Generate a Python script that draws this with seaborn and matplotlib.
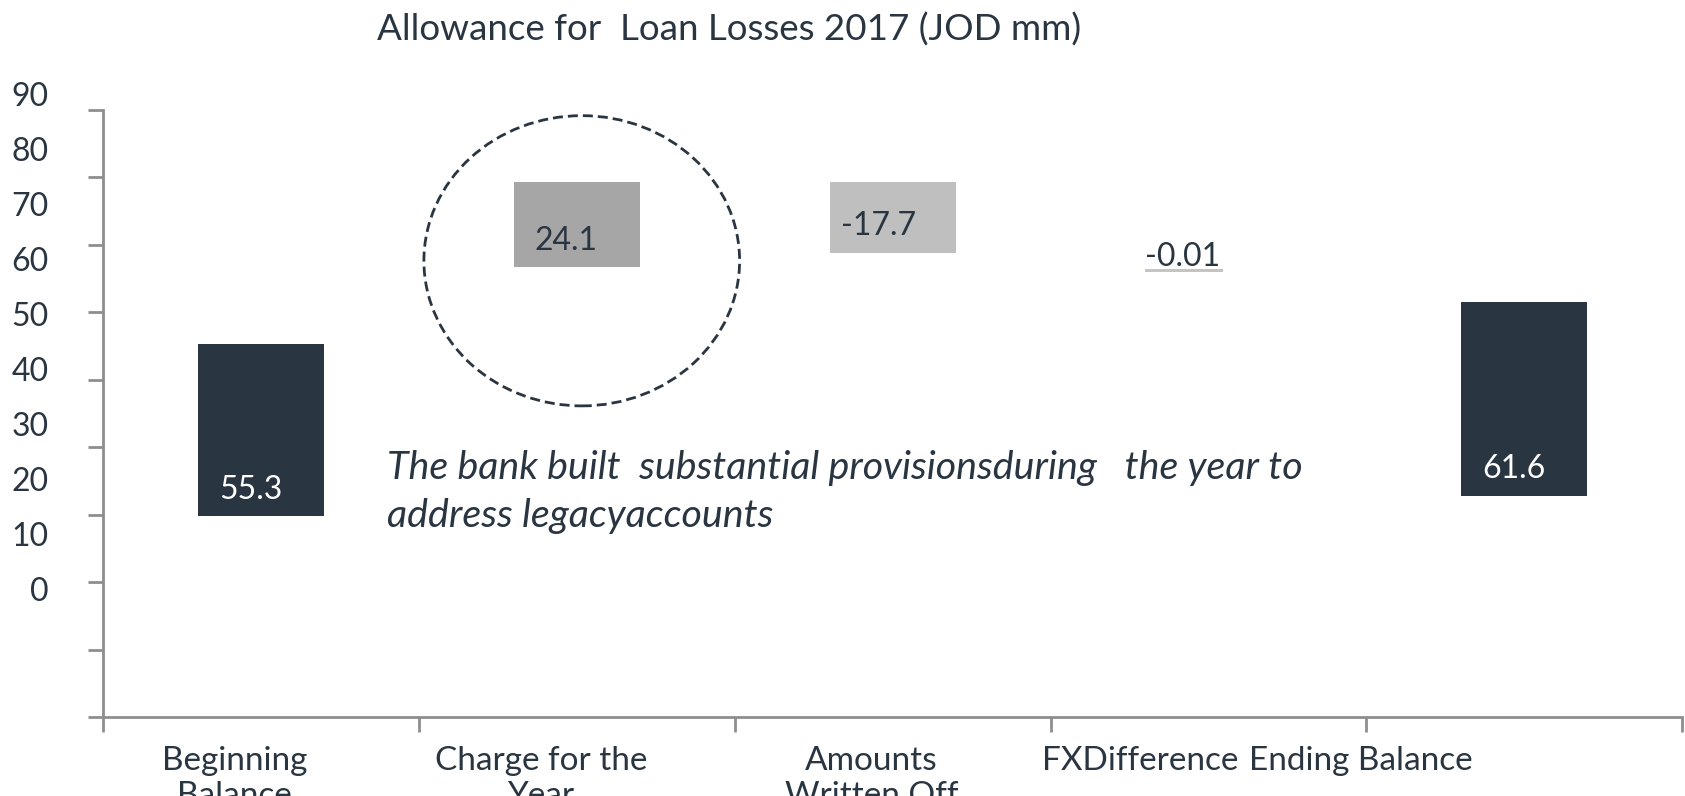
import numpy as np
import seaborn as sns
import matplotlib.pyplot as plt
from matplotlib.patches import Ellipse
from matplotlib.transforms import ScaledTranslation

# Chart data
categories = ["Beginning\nBalance", "Charge for the\nYear", "Amounts\nWritten Off",
              "FXDifference", "Ending Balance"]
values = [55.3, 24.1, -17.7, -0.01, 61.6]
# visible extent of each bar as drawn in the source
seg_low = [29.8, 66.7, 68.8, 66.0, 32.8]
seg_high = [55.3, 79.3, 79.3, 66.4, 61.5]
bar_colors = ["#2a3542", "#a6a6a6", "#bfbfbf", "#c4c4c4", "#2a3542"]
label_colors = ["white", "#2a3542", "#2a3542", "#2a3542", "white"]
y_ticks = [0, 10, 20, 30, 40, 50, 60, 70, 80, 90]
note_lines = ["The bank built  substantial provisionsduring   the year to",
              "address legacyaccounts"]
title = "Allowance for  Loan Losses 2017 (JOD mm)"

navy = "#2a3542"
grey = "#8e8e8e"

sns.set_theme(style="white")
plt.rcParams['font.family'] = ['Lato', 'DejaVu Sans']

fig = plt.figure(figsize=(16.85, 7.96), dpi=100)
# y range runs a bit past 90 so the shifted "90" label still fits
ax = fig.add_axes([0.0614, 0.0992, 0.9368, 0.7928])

heights = [h - l for h, l in zip(seg_high, seg_low)]
sns.barplot(x=categories, y=heights, bottom=seg_low, width=0.4, color=navy,
            errorbar=None, ax=ax)
for patch, c in zip(ax.patches, bar_colors):
    patch.set_facecolor(c)
    patch.set_edgecolor("none")
# FX change is only a thin underline below its label
ax.patches[3].set_width(0.245)

# value labels
for i, (v, lo, hi) in enumerate(zip(values, seg_low, seg_high)):
    dx = 0.035 if v < 0 else 0.066
    if hi - lo < 1:
        x, y = i - 0.2, hi + 0.4
    else:
        x, y = i - 0.2 + dx, lo + 2.55
    ax.text(x, y, f"{v:g}", ha="left", va="baseline",
            fontsize=23, color=label_colors[i])

# dashed circle around the charge bar
ax.add_patch(Ellipse((1.015, 67.6), 1.0, 43, fill=False, edgecolor=navy,
                     linewidth=2, linestyle=(0, (3.6, 1.8))))

# commentary
for k, line in enumerate(note_lines):
    ax.text(0.397, 35.3 - k * 7.1, line, ha="left", va="baseline",
            fontsize=28.4, fontstyle="italic", color=navy)

# axes styling
ax.set_xlim(-0.5, 4.5)
ax.set_ylim(0, 93.5)
ax.spines["left"].set_bounds(0, 90)
ax.set_xticks(np.arange(-0.5, 5, 1), labels=[""] * 6)
ax.set_xticks(range(5), labels=categories, minor=True)
ax.set_yticks(y_ticks, labels=[""] * len(y_ticks))
ax.tick_params(axis="both", which="major", direction="out", length=10.8,
               width=2, color=grey, left=True, bottom=True)
ax.tick_params(axis="x", which="minor", length=0, pad=21, labelsize=24,
               labelcolor=navy)
x_shift = [-27, -36, -21, -68, -163]
for lab, dx in zip(ax.get_xticklabels(minor=True), x_shift):
    lab.set_transform(lab.get_transform() +
                      ScaledTranslation(dx / 100, 0, fig.dpi_scale_trans))
for side in ["top", "right"]:
    ax.spines[side].set_visible(False)
for side in ["left", "bottom"]:
    ax.spines[side].set_color(grey)
    ax.spines[side].set_linewidth(2)
ax.set_xlabel("")
ax.set_ylabel("")

# y labels sit on their own (slightly compressed) scale, as in the source
sec = ax.secondary_yaxis("left", functions=(lambda d: (d - 18.96) / 0.8156,
                                            lambda s: 18.96 + 0.8156 * s))
sec.set_yticks(y_ticks)
sec.tick_params(length=0, pad=39.5, labelsize=23, labelcolor=navy)
sec.spines["left"].set_visible(False)

fig.text(0.4326, (796 - 41) / 796, title, ha="center", va="baseline",
         fontsize=26.5, color=navy)

plt.savefig("out.png", dpi=100)
